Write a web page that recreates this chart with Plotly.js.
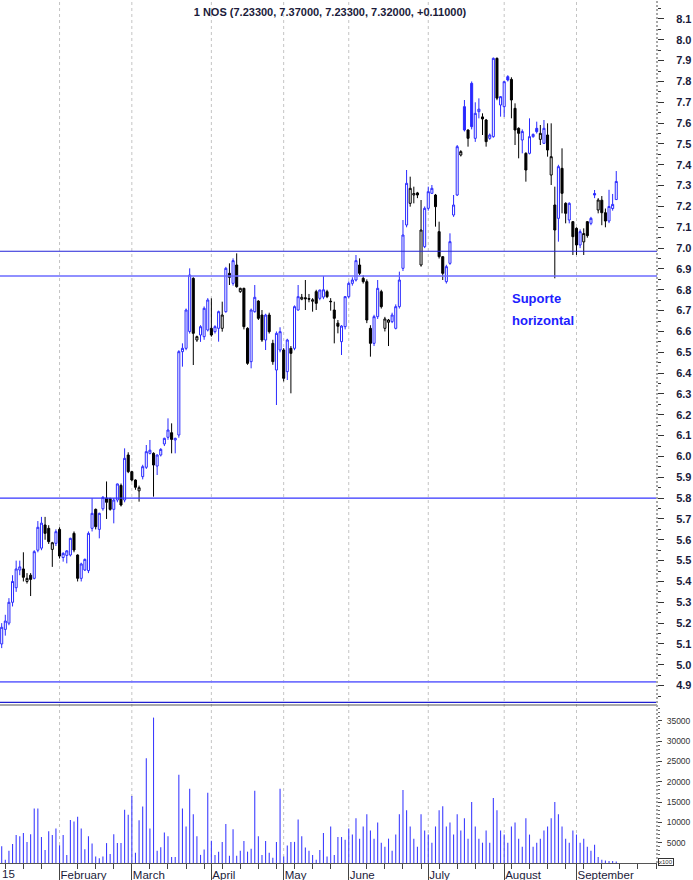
<!DOCTYPE html>
<html><head><meta charset="utf-8">
<script src="https://cdn.plot.ly/plotly-3.0.1.min.js"></script>
<style>html,body{margin:0;padding:0;background:#fff}#chart{width:693px;height:880px}</style>
</head><body><div id="chart"></div>
<script>
const titleText = '1 NOS (7.23300, 7.37000, 7.23300, 7.32000, +0.11000)';
const openP = [5.10,5.17,5.20,5.30,5.37,5.455,5.46,5.40,5.43,5.415,
5.55,5.56,5.671,5.655,5.554,5.583,5.65,5.515,5.525,5.527,
5.631,5.527,5.415,5.455,5.452,5.655,5.746,5.65,5.749,5.80,
5.799,5.746,5.791,5.861,5.791,6.007,5.927,5.887,5.835,5.903,
5.948,6.015,6.015,5.954,6.007,6.06,6.092,6.114,6.079,6.103,
6.503,6.519,6.60,6.855,6.559,6.583,6.575,6.607,6.615,6.599,
6.615,6.615,6.695,6.879,6.831,6.919,6.791,6.807,6.615,6.455,
6.695,6.746,6.679,6.559,6.679,6.543,6.415,6.511,6.511,6.407,
6.519,6.519,6.703,6.755,6.762,6.758,6.745,6.791,6.759,6.765,
6.791,6.745,6.703,6.64,6.551,6.623,6.767,6.831,6.847,6.919,
6.855,6.839,6.615,6.543,6.671,6.791,6.615,6.644,6.647,6.615,
6.719,6.903,7.111,7.215,7.255,7.265,6.919,7.007,7.191,7.263,
7.255,7.079,6.959,6.839,6.927,7.159,7.255,7.447,7.679,7.567,
7.791,7.527,7.655,7.63,7.615,7.527,7.535,7.911,7.687,7.679,
7.823,7.81,7.671,7.575,7.519,7.455,7.455,7.535,7.575,7.522,
7.503,7.543,7.351,7.207,7.143,7.383,7.215,7.135,7.127,7.095,
7.015,7.03,7.127,7.119,7.262,7.183,7.23,7.17,7.13,7.19,
7.233];
const highP = [5.20,5.24,5.32,5.43,5.50,5.50,5.54,5.44,5.44,5.55,
5.69,5.71,5.71,5.67,5.59,5.65,5.66,5.54,5.55,5.61,
5.64,5.53,5.49,5.51,5.64,5.799,5.75,5.73,5.81,5.88,
5.80,5.80,5.87,5.87,6.039,6.02,5.93,5.89,5.86,5.96,
6.055,6.079,6.02,6.01,6.04,6.09,6.183,6.159,6.09,6.51,
6.543,6.71,6.903,6.86,6.58,6.63,6.72,6.76,6.759,6.63,
6.70,6.743,6.91,6.927,6.951,6.975,6.81,6.81,6.62,6.71,
6.823,6.75,6.703,6.685,6.69,6.56,6.60,6.62,6.52,6.565,
6.53,6.725,6.823,6.78,6.847,6.78,6.76,6.80,6.80,6.866,
6.80,6.76,6.743,6.655,6.63,6.77,6.84,6.86,6.967,6.951,
6.87,6.85,6.63,6.68,6.847,6.80,6.67,6.66,6.69,6.73,
6.887,7.135,7.375,7.343,7.295,7.27,7.231,7.20,7.295,7.303,
7.26,7.127,6.96,6.92,7.071,7.255,7.495,7.47,7.711,7.57,
7.80,7.70,7.719,7.647,7.62,7.55,7.915,7.915,7.73,7.80,
7.83,7.82,7.695,7.58,7.57,7.46,7.623,7.55,7.607,7.591,
7.615,7.599,7.599,7.295,7.40,7.479,7.22,7.22,7.13,7.10,
7.09,7.095,7.13,7.15,7.279,7.24,7.25,7.19,7.28,7.26,
7.37];
const lowP = [5.08,5.14,5.19,5.28,5.35,5.43,5.40,5.39,5.33,5.41,
5.54,5.55,5.60,5.58,5.47,5.57,5.51,5.495,5.487,5.52,
5.54,5.40,5.40,5.45,5.44,5.64,5.65,5.607,5.74,5.70,
5.74,5.679,5.78,5.76,5.78,5.92,5.88,5.84,5.783,5.89,
5.94,6.01,5.807,5.911,6.00,6.05,6.08,6.015,6.015,6.09,
6.431,6.51,6.59,6.439,6.55,6.55,6.56,6.60,6.575,6.59,
6.551,6.599,6.69,6.823,6.82,6.81,6.785,6.61,6.44,6.423,
6.69,6.655,6.55,6.511,6.59,6.44,6.247,6.50,6.36,6.367,
6.303,6.51,6.70,6.75,6.703,6.74,6.695,6.703,6.75,6.755,
6.76,6.70,6.543,6.591,6.487,6.61,6.76,6.82,6.84,6.87,
6.83,6.64,6.479,6.53,6.66,6.71,6.60,6.53,6.64,6.61,
6.71,6.89,7.10,7.199,7.215,7.24,6.911,7.00,7.18,7.26,
7.103,6.95,6.847,6.83,6.92,7.15,7.25,7.44,7.56,7.487,
7.57,7.51,7.623,7.543,7.487,7.52,7.53,7.71,7.631,7.63,
7.80,7.623,7.495,7.431,7.455,7.319,7.45,7.53,7.55,7.495,
7.50,7.439,7.303,6.855,7.031,7.167,7.119,7.119,6.967,6.967,
7.00,6.967,7.05,7.11,7.24,7.167,7.11,7.10,7.12,7.18,
7.233];
const closeP = [5.18,5.21,5.30,5.40,5.46,5.47,5.42,5.415,5.41,5.543,
5.66,5.68,5.631,5.591,5.586,5.639,5.522,5.535,5.547,5.607,
5.551,5.415,5.484,5.506,5.631,5.727,5.663,5.727,5.804,5.78,
5.746,5.791,5.868,5.767,5.991,5.927,5.887,5.852,5.850,5.951,
6.023,6.03,5.959,6.007,6.034,6.087,6.127,6.082,6.087,6.503,
6.519,6.703,6.871,6.591,6.575,6.623,6.711,6.751,6.583,6.623,
6.695,6.679,6.903,6.86,6.94,6.815,6.807,6.623,6.447,6.703,
6.764,6.663,6.559,6.679,6.599,6.455,6.591,6.599,6.375,6.559,
6.495,6.719,6.767,6.764,6.757,6.755,6.752,6.735,6.799,6.80,
6.767,6.743,6.663,6.625,6.626,6.767,6.831,6.847,6.94,6.879,
6.839,6.655,6.543,6.671,6.807,6.719,6.66,6.655,6.679,6.719,
6.847,7.063,7.311,7.287,7.262,7.255,7.087,7.191,7.271,7.287,
7.199,6.959,6.879,6.911,7.031,7.207,7.487,7.463,7.567,7.527,
7.583,7.647,7.667,7.62,7.511,7.543,7.911,7.72,7.727,7.799,
7.807,7.711,7.567,7.551,7.56,7.375,7.535,7.546,7.559,7.551,
7.575,7.471,7.439,7.087,7.391,7.263,7.167,7.215,7.055,7.015,
7.079,7.07,7.06,7.143,7.255,7.231,7.17,7.13,7.20,7.21,
7.32];
const volume = [4100,800,3000,4700,6900,6600,7400,5200,7100,13400,
13400,6400,3200,7800,6900,8500,4400,6900,2000,10600,
10200,11400,8500,3400,6600,4800,1600,1200,1600,4900,
2200,7100,4900,4900,13100,11900,16500,2500,10500,13900,
25800,8500,35800,3000,3900,7500,6600,1500,1500,21700,
13400,9000,18300,12000,6600,2000,3300,17300,5500,2000,
2800,5200,9600,1800,8300,1800,3000,5400,2800,3500,
17800,6600,2000,5400,2500,1300,5200,18300,1600,4300,
5200,5200,10700,6600,3800,3000,2000,800,3200,7400,
1600,9000,2000,6400,6400,5700,8500,7000,11000,6000,
9000,12000,8000,6000,10000,5000,4000,6000,3000,7000,
12000,18000,13000,9000,6000,4000,12000,8000,7000,5000,
9000,13000,14000,9000,10000,7000,12000,8000,11000,6000,
15000,9000,6000,5000,8000,5000,16000,13000,8000,7000,
5000,9000,10000,6000,4000,11000,7000,4000,5000,6000,
8000,9000,11000,15000,12000,9000,6000,5000,8000,7000,
5000,6000,4000,3000,4500,1500,800,600,500,500,
400];
const monthStart = [16,36,58,78,96,118,139,159];
const monthLabels = ['February','March','April','May','June','July','August','September'];
const yearLabel = '15';
const levels = [6.985, 6.866, 5.80, 4.918, 4.82];
const volTicks = [5000,10000,15000,20000,25000,30000,35000];
const noteLines = ['Suporte','horizontal'];
const notePos = {x:140.6, y:[6.76, 6.655]};

const levelStyle = [
  {color:'#2323d8', width:1},
  {color:'#6b6bff', width:1.6},
  {color:'#3434ff', width:1.2},
  {color:'#7373ff', width:1.6},
  {color:'#1f1fd0', width:1.2}
];

const day = openP.map((_, i) => i);
const mk = () => ({x:[],open:[],high:[],low:[],close:[]});
const blueG = mk(), blackG = mk();
day.forEach(i => {
  const g = (i === 0 || closeP[i] >= closeP[i-1]) ? blueG : blackG;
  g.x.push(i); g.open.push(openP[i]); g.high.push(highP[i]); g.low.push(lowP[i]); g.close.push(closeP[i]);
});
const candle = (g, col) => ({
  type:'candlestick', x:g.x, open:g.open, high:g.high, low:g.low, close:g.close,
  xaxis:'x', yaxis:'y2', whiskerwidth:0, hoverinfo:'skip', showlegend:false,
  increasing:{line:{color:col, width:1}, fillcolor:'#ffffff'},
  decreasing:{line:{color:col, width:1}, fillcolor:col}
});
const volTrace = {type:'bar', x:day, y:volume, width:0.3, xaxis:'x', yaxis:'y',
  marker:{color:'#3c3cff', line:{width:0}}, hoverinfo:'skip', showlegend:false};

const H = 880, W = 693, mB = 17, plotH = H - mB, plotW = 657;
const xRange = [-0.47, 181.27];
const sepY = (863 - 705) / plotH;
const pxY = p => (863 - p) / plotH;

const shapes = [];
monthStart.forEach(m => shapes.push({type:'line', xref:'x', x0:m, x1:m, yref:'paper', y0:0, y1:1,
  line:{color:'#c4c4c4', width:1, dash:'3px,3px'}, layer:'below'}));
levels.forEach((lv, k) => shapes.push({type:'line', xref:'paper', x0:0, x1:1, yref:'y2', y0:lv, y1:lv,
  line:levelStyle[k], layer:'above'}));
shapes.push({type:'line', xref:'paper', x0:0, x1:1, yref:'paper', y0:sepY, y1:sepY, line:{color:'#555', width:1}});
shapes.push({type:'line', xref:'paper', x0:1, x1:1, yref:'paper', y0:0, y1:1, line:{color:'#a8a8a8', width:2, dash:'2px,2px'}});

const tickFont = {family:'Arial, Liberation Sans, sans-serif', size:11.5, color:'#1b1b3a'};
const annotations = [
  {text:yearLabel, xref:'paper', x:0, xanchor:'left', xshift:0, yref:'paper', y:pxY(874), yanchor:'middle', showarrow:false, font:tickFont},
  {text:'<b>'+noteLines[0]+'</b>', xref:'x', x:notePos.x, xanchor:'left', yref:'y2', y:notePos.y[0], yanchor:'middle', showarrow:false, font:{family:'Arial', size:13, color:'#2020ff'}},
  {text:'<b>'+noteLines[1]+'</b>', xref:'x', x:notePos.x, xanchor:'left', yref:'y2', y:notePos.y[1], yanchor:'middle', showarrow:false, font:{family:'Arial', size:13, color:'#2020ff'}},
  {text:'x100', xref:'paper', x:1, xanchor:'left', xshift:1, yref:'paper', y:pxY(862), yanchor:'middle', showarrow:false,
   font:{family:'Arial', size:6, color:'#333'}, bordercolor:'#333', borderwidth:1, borderpad:0}
];

const layout = {
  width:W, height:H, margin:{l:0, r:W - plotW, t:0, b:mB, pad:0},
  paper_bgcolor:'#ffffff', plot_bgcolor:'#ffffff', showlegend:false,
  boxgap:0.25, boxgroupgap:0.25, boxmode:'overlay',
  title:{text:titleText, font:{family:'Arial, Liberation Sans, sans-serif', size:11, weight:'bold', color:'#1b1b3a'},
    xref:'container', x:330/W, xanchor:'center', yref:'container', y:1-12/H, yanchor:'middle'},
  xaxis:{range:xRange, rangeslider:{visible:false}, showgrid:false, zeroline:false,
    showline:true, linecolor:'#555', linewidth:1, ticks:'outside', ticklen:17, tickcolor:'#444', tickwidth:1,
    tickmode:'array', tickvals:monthStart, ticktext:monthLabels, ticklabelposition:'outside right', ticklabelstandoff:1,
    tickfont:tickFont, minor:{tickmode:'linear', tick0:1, dtick:5, ticks:'outside', ticklen:5, tickcolor:'#444', showgrid:false},
    anchor:'y', fixedrange:true},
  yaxis:{domain:[0, sepY], range:[0, 38900], side:'right', anchor:'x', showgrid:false, zeroline:false,
    tickmode:'array', tickvals:volTicks, tickformat:'d', ticks:'outside', ticklen:4, tickcolor:'#444',
    minor:{tickmode:'linear', tick0:0, dtick:1000, ticks:'outside', ticklen:2, tickcolor:'#666', showgrid:false},
    tickfont:{family:'Arial', size:8.5, color:'#333'}, ticklabelstandoff:3, fixedrange:true},
  yaxis2:{domain:[sepY, 1], range:[4.807, 8.191], side:'right', anchor:'x', showgrid:false, zeroline:false,
    tickmode:'linear', tick0:0, dtick:0.1, tickformat:'.1f', ticks:'outside', ticklen:6, tickcolor:'#333',
    minor:{tickmode:'linear', tick0:0, dtick:0.05, ticks:'outside', ticklen:3, tickcolor:'#333', showgrid:false},
    tickfont:{family:'Arial, Liberation Sans, sans-serif', size:11, weight:'bold', color:'#1b1b3a'}, ticklabelstandoff:10, fixedrange:true},
  shapes:shapes, annotations:annotations
};

Plotly.newPlot('chart', [volTrace, candle(blueG, '#2a2aff'), candle(blackG, '#000000')], layout, {staticPlot:true, displayModeBar:false});
</script>
</body></html>
